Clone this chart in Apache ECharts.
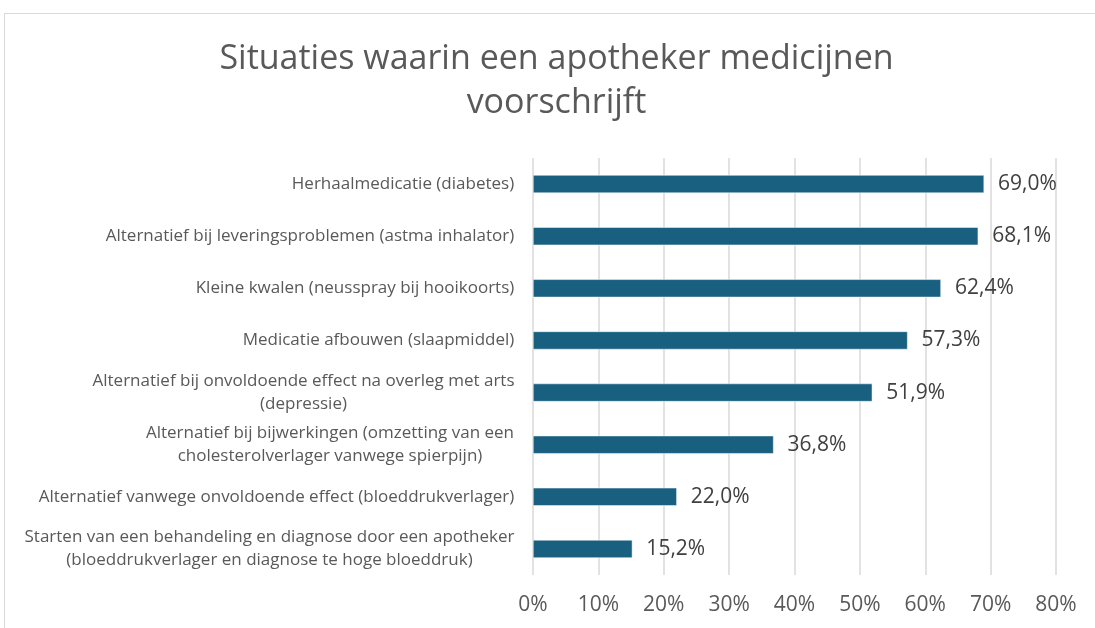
<!DOCTYPE html>
<html lang="nl">
<head>
<meta charset="UTF-8">
<title>Situaties waarin een apotheker medicijnen voorschrijft</title>
<script src="https://cdn.jsdelivr.net/npm/echarts@6/dist/echarts.min.js"></script>
<style>
html, body { margin: 0; padding: 0; background: #fff; }
#chart { width: 1095px; height: 628px; }
.frame {
position: absolute; left: 4px; top: 13px; width: 1200px; height: 700px;
border-top: 1px solid #d9d9d9; border-left: 1px solid #d9d9d9;
pointer-events: none;
}
</style>
</head>
<body>
<div id="chart"></div>
<div class="frame"></div>
<script>
const categories = [
'Herhaalmedicatie (diabetes)',
'Alternatief bij leveringsproblemen (astma inhalator)',
'Kleine kwalen (neusspray bij hooikoorts)',
'Medicatie afbouwen (slaapmiddel)',
'Alternatief bij onvoldoende effect na overleg met arts\n(depressie)',
'Alternatief bij bijwerkingen (omzetting van een\ncholesterolverlager vanwege spierpijn)',
'Alternatief vanwege onvoldoende effect (bloeddrukverlager)',
'Starten van een behandeling en diagnose door een apotheker\n(bloeddrukverlager en diagnose te hoge bloeddruk)'
];
const percentages = [69.0, 68.1, 62.4, 57.3, 51.9, 36.8, 22.0, 15.2];
const titleLines = ['Situaties waarin een apotheker medicijnen', 'voorschrijft'];

const FONT = '"Open Sans", sans-serif';
const LABEL_SIZE = 17;

// each multi-line label: lines centred on the widest line, block right-aligned
const ctx = document.createElement('canvas').getContext('2d');
ctx.font = LABEL_SIZE + 'px "Open Sans"';
const rich = {};
categories.forEach((c, i) => {
const w = Math.max(...c.split('\n').map(l => ctx.measureText(l).width));
rich['c' + i] = { width: Math.ceil(w) + 1, align: 'center', fontSize: LABEL_SIZE, lineHeight: 23, color: '#595959', fontFamily: FONT };
});

// title box centred a little right of the canvas middle, as in the original
ctx.font = '34px "Open Sans"';
const titleW = Math.ceil(Math.max(...titleLines.map(l => ctx.measureText(l).width)));
const titleCenter = 556;

const chart = echarts.init(document.getElementById('chart'));
chart.setOption({
animation: false,
textStyle: { fontFamily: FONT },
title: {
text: titleLines.map(l => '{t|' + l + '}').join('\n'),
left: Math.round(titleCenter - titleW / 2),
top: 37,
padding: 0,
textStyle: {
fontWeight: 'normal',
rich: { t: { width: titleW, align: 'center', fontSize: 34, fontWeight: 'normal', lineHeight: 44, color: '#595959', fontFamily: FONT } }
}
},
grid: { left: 533, right: 39, top: 158, bottom: 53 },
xAxis: {
type: 'value',
min: 0,
max: 80,
interval: 10,
axisLine: { show: false },
axisTick: { show: false },
splitLine: { lineStyle: { color: '#d9d9d9', width: 1.5 } },
axisLabel: { formatter: '{value}%', fontSize: 21, color: '#595959', margin: 20 }
},
yAxis: {
type: 'category',
inverse: true,
data: categories,
axisLine: { show: false },
axisTick: { show: false },
axisLabel: {
margin: 18,
formatter: (v, i) => v.split('\n').map(l => '{c' + i + '|' + l + '}').join('\n'),
rich: rich
}
},
series: [{
type: 'bar',
data: percentages,
barWidth: 18,
itemStyle: { color: '#185f80', borderColor: '#ffffff', borderWidth: 0.5 },
label: {
show: true,
position: 'right',
distance: 14,
fontSize: 21,
color: '#404040',
formatter: p => p.value.toFixed(1).replace('.', ',') + '%'
}
}]
});
</script>
</body>
</html>
